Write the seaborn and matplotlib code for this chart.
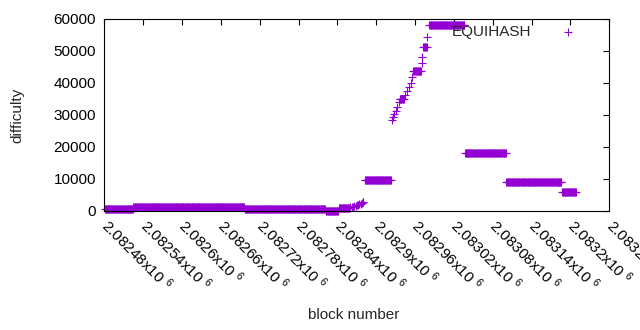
import numpy as np
import pandas as pd
import matplotlib
matplotlib.use("Agg")
import matplotlib.pyplot as plt
import seaborn as sns

# ---- data ----
# flat runs of constant difficulty: start block, end block, difficulty
run_start = [2082481, 2082525, 2082697, 2082822, 2082842, 2082882, 2082936, 2082957, 2082973, 2082982, 2083037, 2083101, 2083187]
run_end   = [2082524, 2082696, 2082821, 2082841, 2082859, 2082923, 2082943, 2082969, 2082978, 2083036, 2083100, 2083186, 2083208]
run_value = [600, 1100, 560, 150, 800, 9600, 34900, 43700, 51100, 58100, 18000, 9000, 5800]

# individual blocks on the rising parts
pt_block = [2082860, 2082862, 2082864, 2082866, 2082868, 2082870, 2082872, 2082874,
            2082876, 2082878, 2082879, 2082880,
            2082925, 2082926, 2082928, 2082930, 2082932, 2082935,
            2082944, 2082947, 2082951, 2082953, 2082956,
            2082970, 2082971, 2082979]
pt_value = [1200, 1300, 1400, 1500, 1650, 1750, 1900, 2050,
            2250, 2500, 2700, 2950,
            28400, 29400, 30200, 31200, 32600, 34000,
            36400, 37600, 38600, 39900, 41800,
            46100, 48200, 54300]

x_ticks = [2082480, 2082540, 2082600, 2082660, 2082720, 2082780, 2082840,
           2082900, 2082960, 2083020, 2083080, 2083140, 2083200, 2083260]
x_ticklabels = ["2.08248", "2.08254", "2.0826", "2.08266", "2.08272", "2.08278", "2.08284",
                "2.0829", "2.08296", "2.08302", "2.08308", "2.08314", "2.0832", "2.08326"]
y_ticks = [0, 10000, 20000, 30000, 40000, 50000, 60000]

# ---- build table ----
blocks, diffs = [], []
for s, e, v in zip(run_start, run_end, run_value):
    b = np.arange(s, e + 1)
    blocks.extend(b.tolist())
    diffs.extend([v] * len(b))
blocks.extend(pt_block)
diffs.extend(pt_value)
df = pd.DataFrame({"block": blocks, "difficulty": diffs}).sort_values("block")

# ---- plot ----
sns.set_style("white")
plt.rcParams["font.family"] = ["Liberation Sans", "DejaVu Sans"]
plt.rcParams["mathtext.fontset"] = "custom"
plt.rcParams["mathtext.rm"] = "Liberation Sans"
plt.rcParams["mathtext.it"] = "Liberation Sans"

purple = "#9400d3"
fig = plt.figure(figsize=(6.4, 3.3), dpi=100)
ax = fig.add_axes([104.3 / 640, 1 - 211 / 330, 505 / 640, 192 / 330])

sns.scatterplot(data=df, x="block", y="difficulty", marker="+", color=purple,
                s=30, linewidth=0.8, ax=ax, label="EQUIHASH")
for c in ax.collections:
    c.set_clip_on(False)
    c.set_edgecolor(purple)
    c.set_facecolor(purple)

ax.set_xlim(x_ticks[0], x_ticks[-1])
ax.set_ylim(0, 60000)
ax.set_xticks(x_ticks)
ax.set_xticklabels([l + r"x10 $^{6}$" for l in x_ticklabels],
                   rotation=-45, ha="left", va="center", rotation_mode="anchor")
ax.set_yticks(y_ticks)
ax.set_yticklabels([str(v) for v in y_ticks])

ax.tick_params(axis="both", which="both", direction="in", length=4.5, width=0.8,
               top=True, right=True, labelsize=11, colors="black")
ax.tick_params(axis="x", pad=8)
ax.tick_params(axis="y", pad=6)
for sp in ax.spines.values():
    sp.set_visible(True)
    sp.set_color("black")
    sp.set_linewidth(0.8)

ax.set_xlabel("block number", fontsize=11)
ax.set_ylabel("difficulty", fontsize=11)
ax.xaxis.set_label_coords((354 - 104.3) / 505, (211 - 315) / 192)
ax.yaxis.set_label_coords((17 - 104.3) / 505, 0.5)
for lab in [ax.xaxis.label, ax.yaxis.label]:
    lab.set_va("center")
    lab.set_ha("center")

leg = ax.legend(loc="upper right", bbox_to_anchor=((583 - 104.3) / 505, (211 - 25) / 192),
                frameon=False, markerfirst=False, fontsize=11, borderpad=0, borderaxespad=0,
                handlelength=2.0, handletextpad=1.4, markerscale=1.0)

fig.savefig("out.png", dpi=100, facecolor="white")
